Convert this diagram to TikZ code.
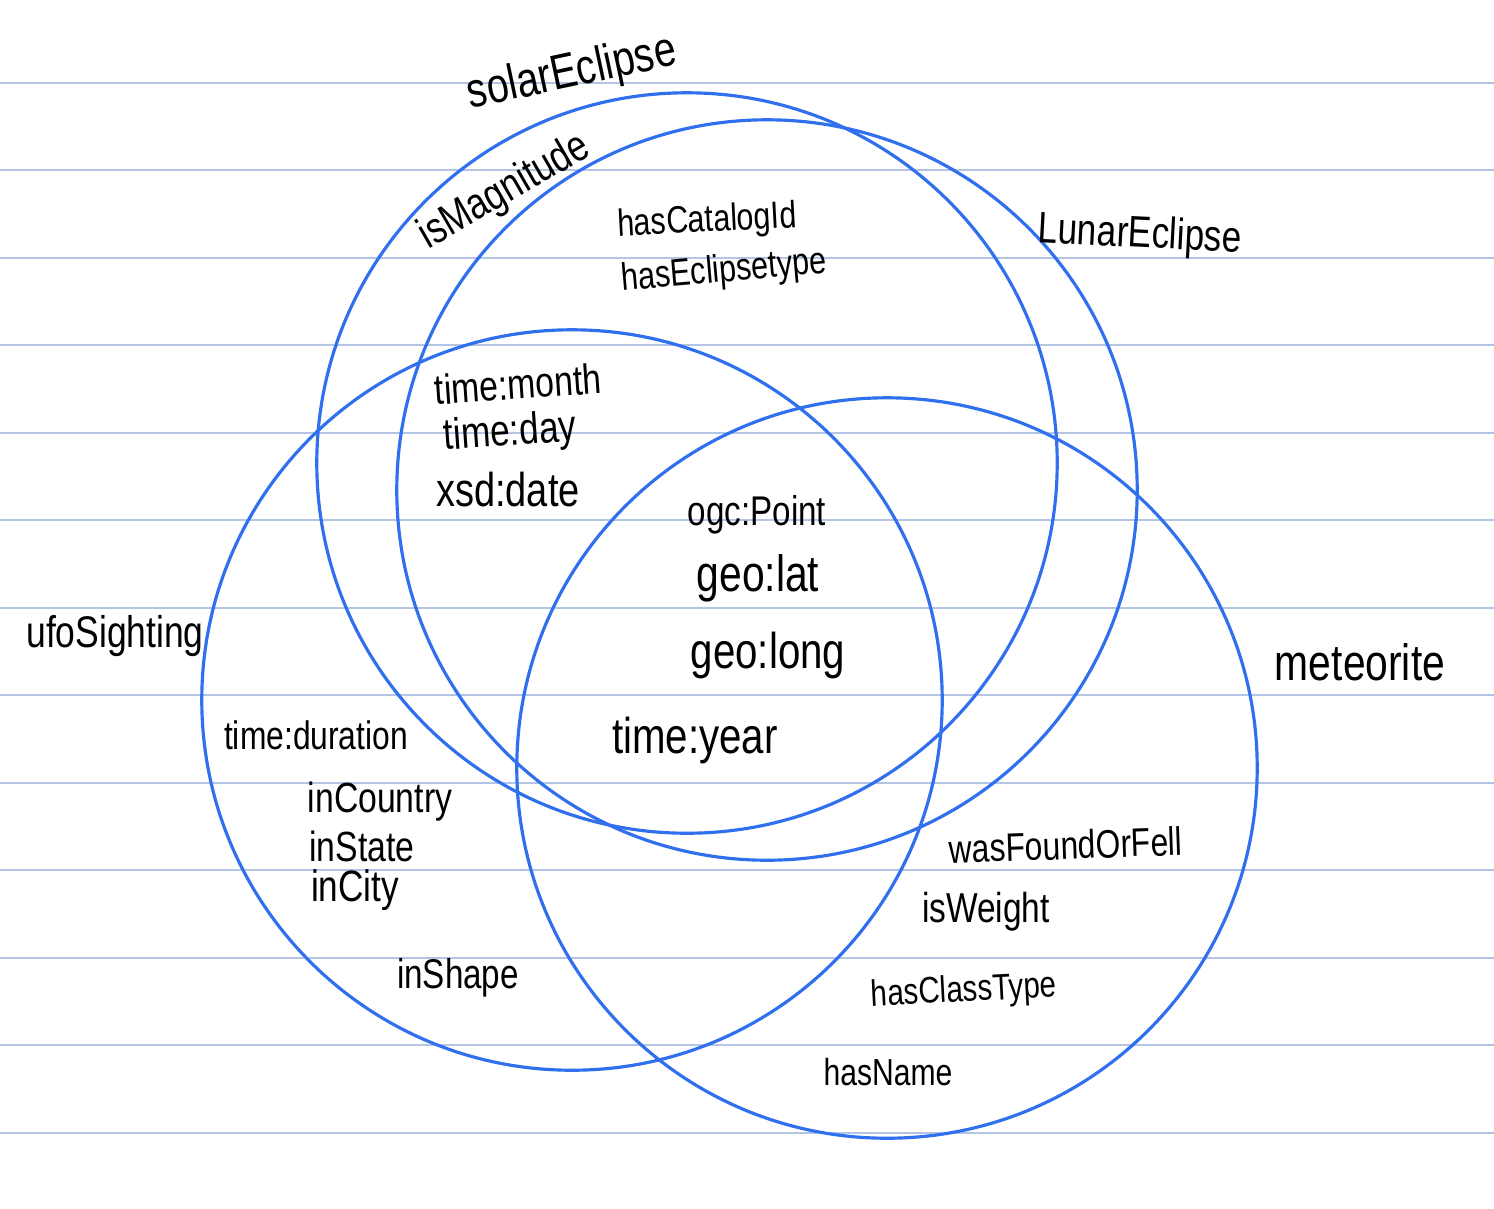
\documentclass[tikz,border=0pt]{standalone}
\usepackage{fontspec}
\setmainfont{Liberation Sans}[FakeStretch=0.8]
\definecolor{ringblue}{RGB}{48,112,238}
\definecolor{ruleblue}{RGB}{180,196,228}
\begin{document}
\begin{tikzpicture}[x=0.01cm,y=-0.01cm,
  ring/.style={circle, draw=ringblue, line width=0.9pt, minimum size=7.4cm, inner sep=0pt},
  rule/.style={draw=ruleblue, line width=0.45pt},
  hw/.style={inner sep=0pt, text=black, font=\fontsize{#1}{#1}\selectfont}]
\useasboundingbox[fill=white] (0,0) rectangle (1494,1208);
% ruled lines
\foreach \yy in {83,170,258,345,433,520,608,695,783,870,958,1045,1133}
  \draw[rule] (0,\yy) -- (1494,\yy);
% circles
\node[ring] (solar) at (687,463) {};
\node[ring] (lunar) at (767,490) {};
\node[ring] (ufo) at (572,700) {};
\node[ring] (met) at (887,768) {};
% set labels
\node[hw=14, rotate=12] (tsolar) at (572,74) {solarEclipse};
\node[hw=12.5, rotate=-3] (tlunar) at (1140,236) {LunarEclipse};
\node[hw=12.6] (tufo) at (115,636) {ufoSighting};
\node[hw=14.5] (tmet) at (1360,662) {meteorite};
% properties
\node[hw=12.5, rotate=30] (p1) at (505,192) {isMagnitude};
\node[hw=10.8, rotate=3] (p2) at (707,222) {hasCatalogId};
\node[hw=10.9, rotate=5] (p3) at (724,272) {hasEclipsetype};
\node[hw=12, rotate=4] (p4) at (518,384) {time:month};
\node[hw=12.5, rotate=4] (p5) at (510,434) {time:day};
\node[hw=13.5] (p6) at (508,490) {xsd:date};
\node[hw=11.8] (p7) at (757,515) {ogc:Point};
\node[hw=14.5] (p8) at (758,578) {geo:lat};
\node[hw=14.3] (p9) at (768,655) {geo:long};
\node[hw=14.3] (p10) at (695,740) {time:year};
\node[hw=11.3] (p11) at (316,735) {time:duration};
\node[hw=12] (p12) at (380,802) {inCountry};
\node[hw=12] (p13) at (362,846) {inState};
\node[hw=12.5] (p14) at (355,890) {inCity};
\node[hw=11.8] (p15) at (458,978) {inShape};
\node[hw=11.3, rotate=2] (p16) at (1066,845) {wasFoundOrFell};
\node[hw=11.9] (p17) at (986,912) {isWeight};
\node[hw=10.5, rotate=3] (p18) at (964,992) {hasClassType};
\node[hw=10.7] (p19) at (888,1072) {hasName};
\end{tikzpicture}
\end{document}
